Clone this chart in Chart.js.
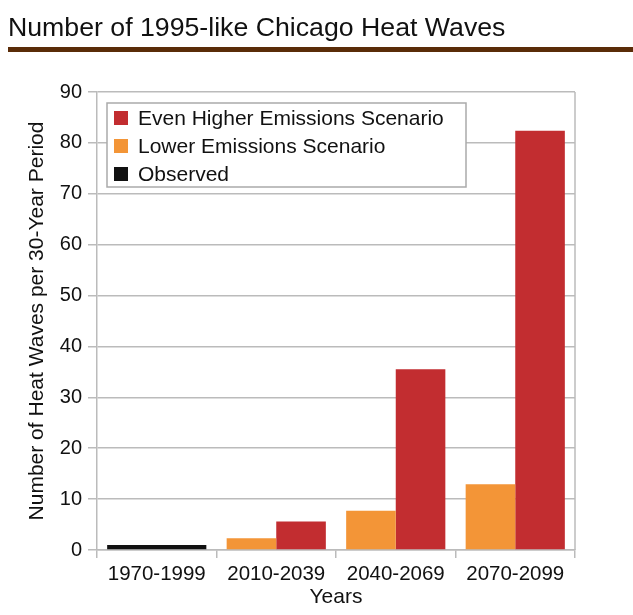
<!DOCTYPE html>
<html>
<head>
<meta charset="utf-8">
<script src="https://cdn.jsdelivr.net/npm/chart.js@4/dist/chart.umd.min.js"></script>
<style>
  html, body { margin: 0; padding: 0; background: #fff; }
  #wrap { position: relative; width: 633px; height: 615px; }
  #title {
    position: absolute; left: 8px; top: 14px;
    font: 26.7px "Liberation Sans", Arial, sans-serif; line-height: 27px;
    color: #111; white-space: nowrap;
  }
  #rule { position: absolute; left: 8px; right: 0; top: 47px; height: 5px; background: #5a2c08; }
  canvas { position: absolute; left: 0; top: 0; }
</style>
</head>
<body>
<div id="wrap">
  <canvas id="chart" width="633" height="615"></canvas>
  <div id="title">Number of 1995-like Chicago Heat Waves</div>
  <div id="rule"></div>
</div>
<script>
// chart data
const periods = ['1970-1999', '2010-2039', '2040-2069', '2070-2099'];
const observed = [1, null, null, null];
const lowerEmissions = [null, 2.3, 7.7, 12.9];
const higherEmissions = [null, 5.6, 35.5, 82.4];
const yTicks = [0, 10, 20, 30, 40, 50, 60, 70, 80, 90];

const FONT = '"Liberation Sans", Arial, sans-serif';
const GRID = '#bbbbbb';

// legend box drawn inside the plot, like the original
const boxLegend = {
  id: 'boxLegend',
  afterDatasetsDraw(chart) {
    const { ctx, chartArea } = chart;
    const x = chartArea.left + 10, y = chartArea.top + 11;
    const w = 359, h = 84;
    ctx.save();
    ctx.fillStyle = '#fff';
    ctx.fillRect(x, y, w, h);
    ctx.strokeStyle = '#aaa';
    ctx.lineWidth = 1.5;
    ctx.strokeRect(x, y, w, h);
    ctx.font = '21px ' + FONT;
    ctx.textBaseline = 'middle';
    const items = chart.data.datasets.slice().reverse();
    items.forEach((ds, i) => {
      const cy = y + 15 + i * 28;
      ctx.fillStyle = ds.backgroundColor;
      ctx.fillRect(x + 7, cy - 7, 14, 14);
      ctx.fillStyle = '#111';
      ctx.fillText(ds.label, x + 31, cy + 1);
    });
    // right frame line
    ctx.strokeStyle = GRID;
    ctx.beginPath();
    ctx.moveTo(chartArea.right, chartArea.top);
    ctx.lineTo(chartArea.right, chartArea.bottom);
    ctx.stroke();
    ctx.restore();
  }
};

new Chart(document.getElementById('chart'), {
  type: 'bar',
  data: {
    labels: periods,
    datasets: [
      { label: 'Observed', data: observed, backgroundColor: '#111111' },
      { label: 'Lower Emissions Scenario', data: lowerEmissions, backgroundColor: '#f39537' },
      { label: 'Even Higher Emissions Scenario', data: higherEmissions, backgroundColor: '#c22d30' }
    ]
  },
  options: {
    responsive: false,
    animation: false,
    skipNull: true,
    categoryPercentage: 0.83,
    barPercentage: 1,
    layout: { padding: { left: 0, right: 58, top: 92, bottom: 0 } },
    plugins: { legend: { display: false }, tooltip: { enabled: false } },
    scales: {
      x: {
        afterFit: s => { s.height = 65; },
        grid: { drawOnChartArea: false, drawTicks: true, tickLength: 8, color: GRID, lineWidth: 1.5 },
        border: { color: GRID, width: 1.5 },
        ticks: { color: '#111', font: { family: FONT, size: 20.5 }, padding: 4 },
        title: { display: true, text: 'Years', color: '#111', font: { family: FONT, size: 21 }, padding: { top: 0, bottom: 5 } }
      },
      y: {
        min: 0, max: 90,
        afterFit: s => { s.width = 97; },
        afterBuildTicks: s => { s.ticks = yTicks.map(v => ({ value: v })); },
        grid: { color: GRID, lineWidth: 1.5, tickLength: 9 },
        border: { color: GRID, width: 1.5 },
        ticks: { color: '#111', font: { family: FONT, size: 20 }, padding: 6 },
        title: { display: true, text: 'Number of Heat Waves per 30-Year Period', color: '#111', font: { family: FONT, size: 21 }, padding: { top: 24.5, bottom: 0 } }
      }
    }
  },
  plugins: [boxLegend]
});
</script>
</body>
</html>
